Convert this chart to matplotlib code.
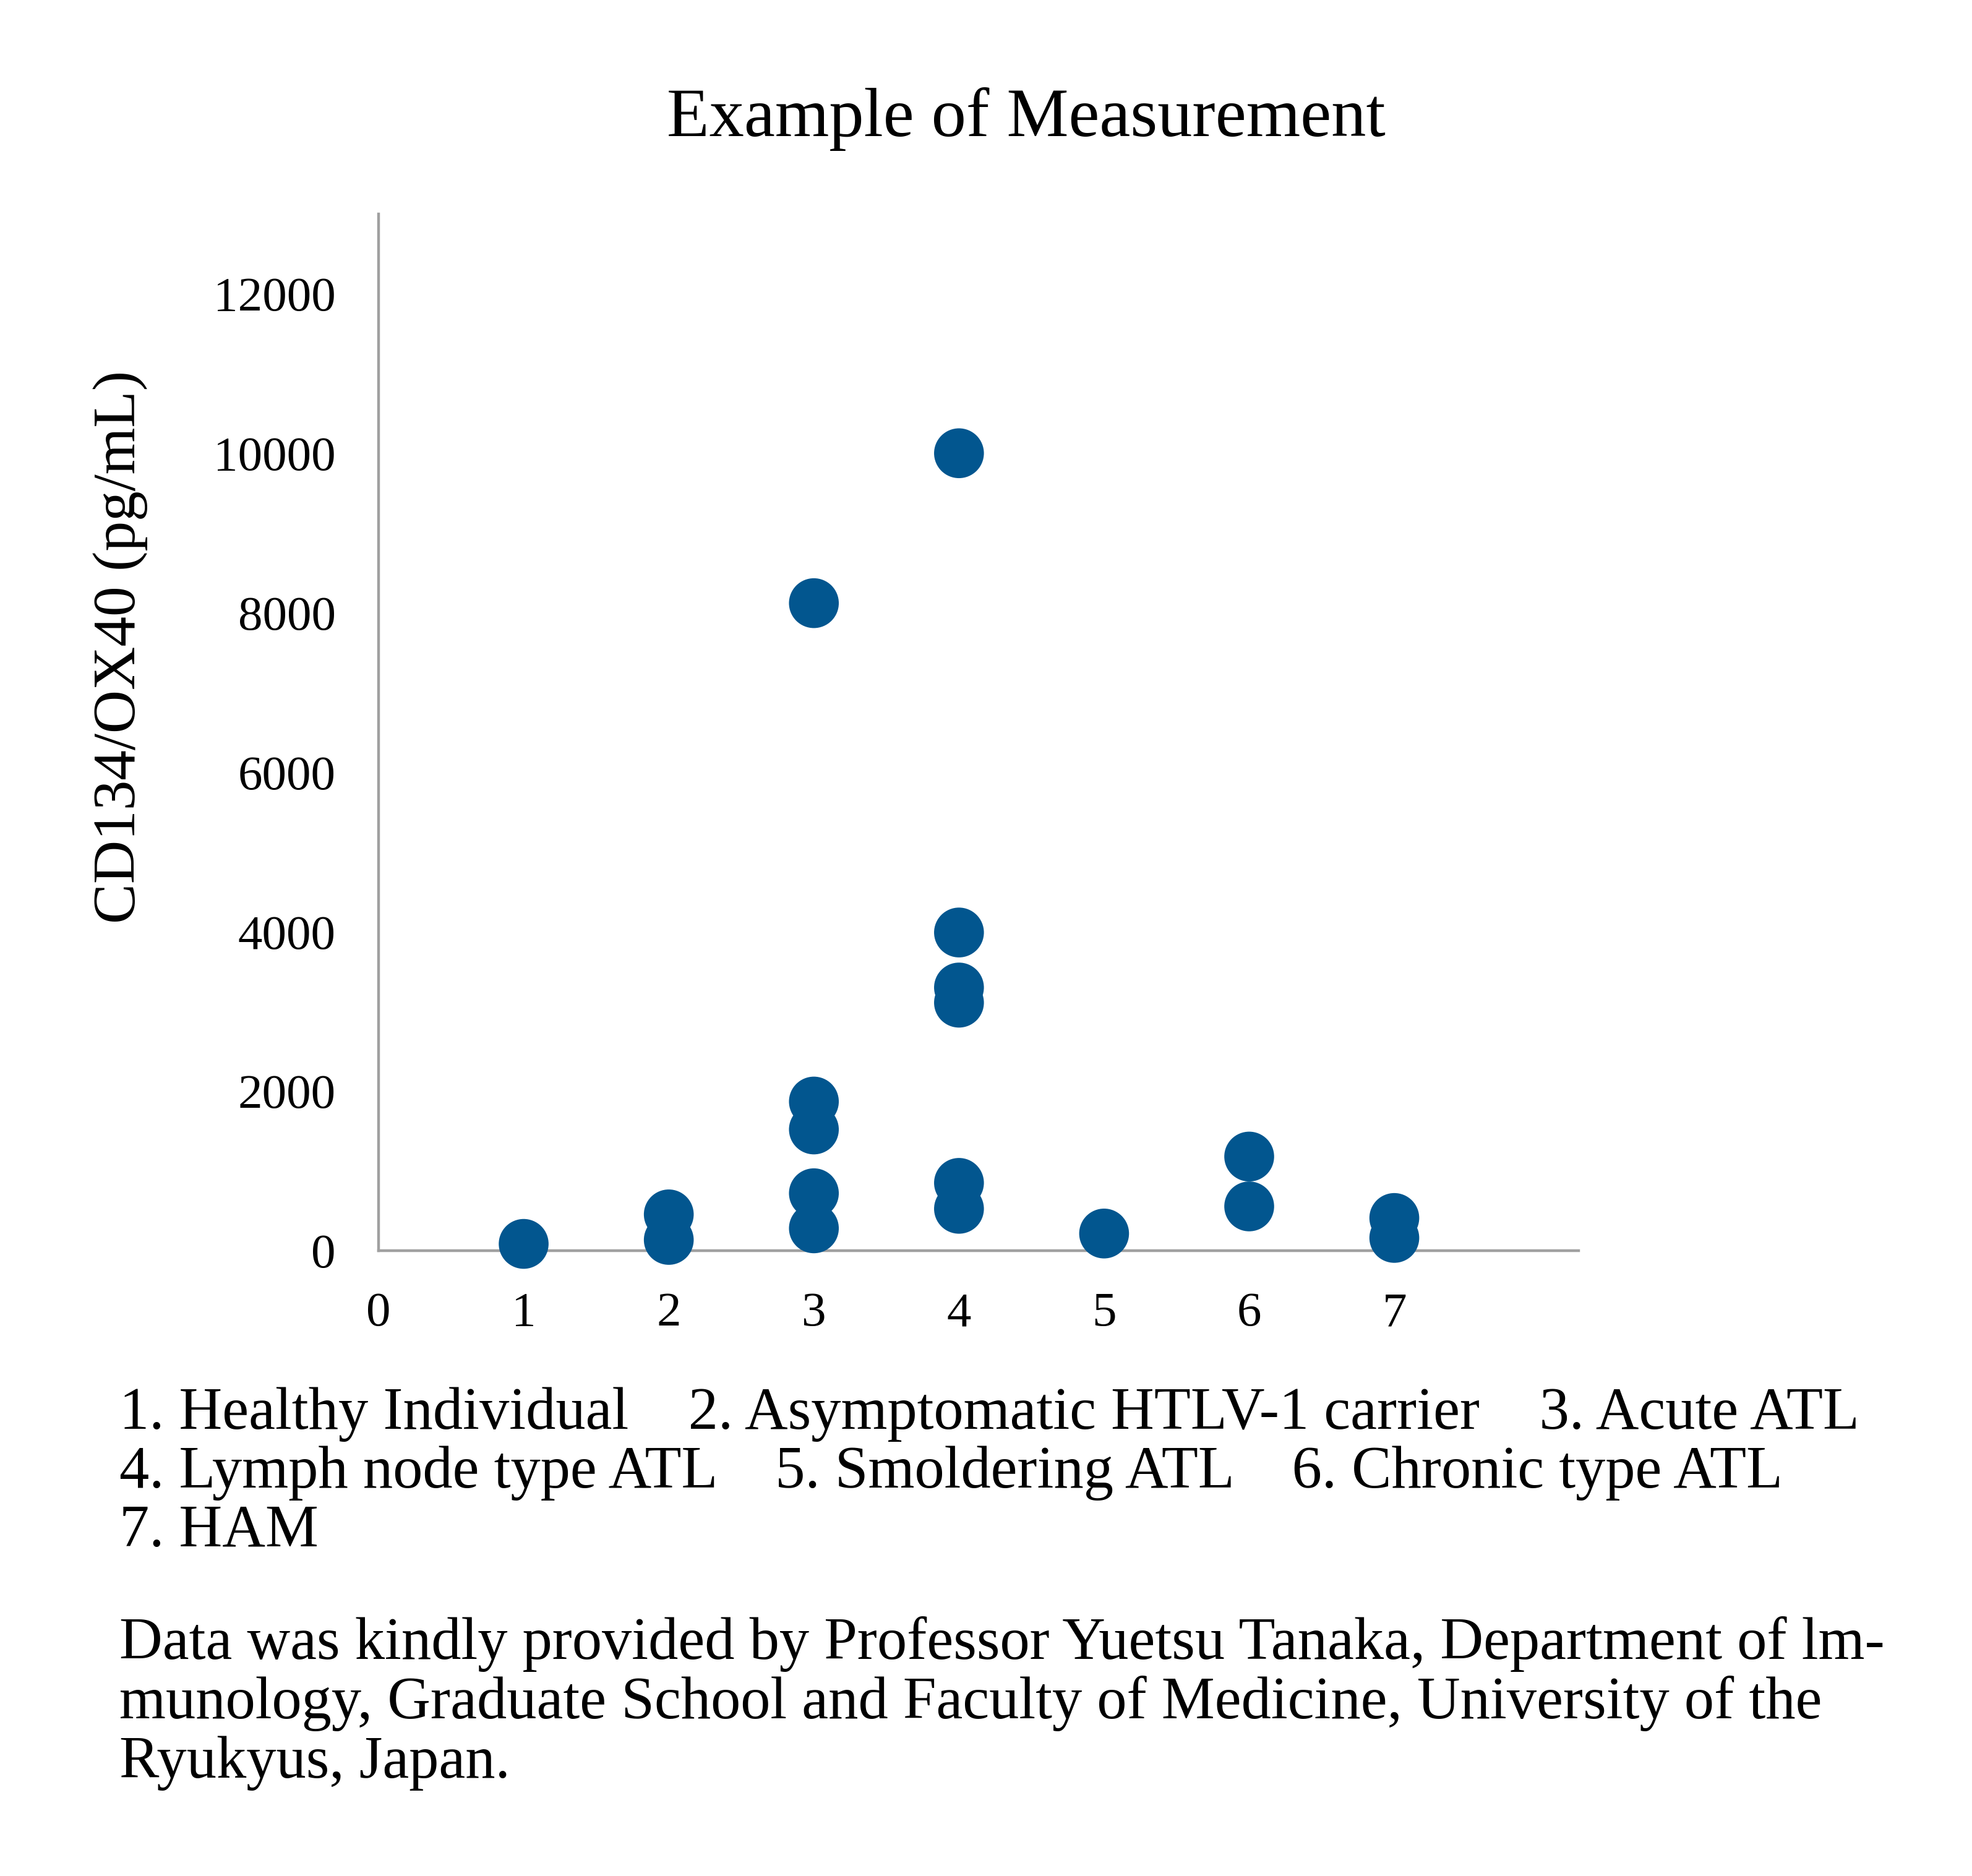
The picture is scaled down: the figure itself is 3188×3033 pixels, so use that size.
import matplotlib
matplotlib.use("Agg")
import matplotlib.pyplot as plt

# ---- data ----
group_ids = [1, 2, 3, 4, 5, 6, 7]
group_values = [
    [85],
    [455, 135],
    [8120, 1870, 1520, 720, 280],
    [10000, 3990, 3300, 3110, 850, 525],
    [215],
    [1180, 555],
    [410, 160],
]
x_ticks = [0, 1, 2, 3, 4, 5, 6, 7]
y_ticks = [0, 2000, 4000, 6000, 8000, 10000, 12000]

title = "Example of Measurement"
ylabel = "CD134/OX40 (pg/mL)"
legend_lines = [
    "1. Healthy Individual    2. Asymptomatic HTLV-1 carrier    3. Acute ATL",
    "4. Lymph node type ATL    5. Smoldering ATL    6. Chronic type ATL",
    "7. HAM",
]
note_lines = [
    "Data was kindly provided by Professor Yuetsu Tanaka, Department of lm-",
    "munology, Graduate School and Faculty of Medicine, University of the",
    "Ryukyus, Japan.",
]

W, H = 3188, 3033
DPI = 100
FONT = ["Liberation Serif", "DejaVu Serif"]
plt.rcParams["font.family"] = FONT

fig = plt.figure(figsize=(W / DPI, H / DPI), dpi=DPI)
fig.patch.set_facecolor("white")

ax = fig.add_axes([612 / W, 1 - 2022 / H, (2552 - 612) / W, (2022 - 346) / H])

xs, ys = [], []
for gid, vals in zip(group_ids, group_values):
    for v in vals:
        xs.append(gid)
        ys.append(v)
ax.scatter(xs, ys, s=58 ** 2, color="#02568f", edgecolors="none",
           zorder=5, clip_on=False)

ax.set_xlim(0, 8.27)
ax.set_ylim(0, 13000)
ax.set_xticks(x_ticks)
ax.set_xticklabels([str(t) for t in x_ticks])
ax.set_yticks(y_ticks)
ax.set_yticklabels([str(t) for t in y_ticks])
ax.tick_params(axis="both", length=0, labelsize=57, colors="black")
ax.tick_params(axis="y", pad=50)
ax.tick_params(axis="x", pad=48)

for side in ["top", "right"]:
    ax.spines[side].set_visible(False)
for side in ["left", "bottom"]:
    ax.spines[side].set_color("#a0a0a0")
    ax.spines[side].set_linewidth(3.2)

fig.text(1659 / W, 1 - 220 / H, title, ha="center", va="baseline", fontsize=81)
fig.text(195 / W, 1 - 1046 / H, ylabel, ha="center", va="center",
         rotation=90, fontsize=70)

for i, line in enumerate(legend_lines):
    fig.text(193 / W, 1 - (2310 + 95 * i) / H, line, ha="left",
             va="baseline", fontsize=69.5)
for i, line in enumerate(note_lines):
    fig.text(193 / W, 1 - (2682 + 96 * i) / H, line, ha="left",
             va="baseline", fontsize=69.5)

fig.savefig("out.png", dpi=DPI, facecolor="white")
